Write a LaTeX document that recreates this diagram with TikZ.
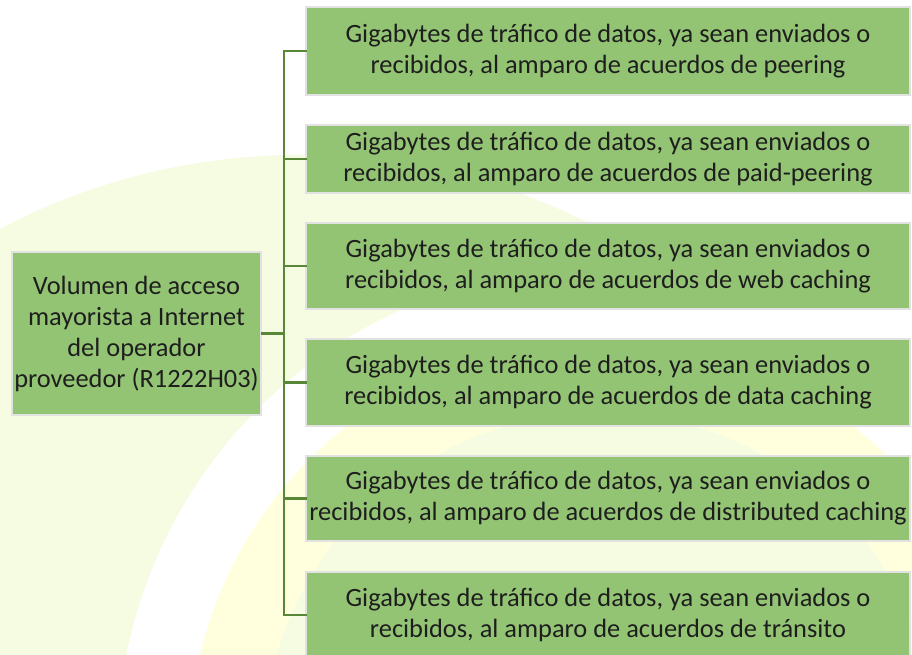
\documentclass[tikz,border=0pt]{standalone}
\usepackage{fontspec}
\setmainfont{Carlito}
\definecolor{boxgreen}{RGB}{147,196,115}
\definecolor{boxrim}{RGB}{226,226,226}
\definecolor{linkgreen}{RGB}{88,135,55}
\definecolor{inkgray}{RGB}{30,30,30}
\definecolor{markpale}{RGB}{245,252,226}
\definecolor{markyellow}{RGB}{255,255,221}

\begin{document}
\begin{tikzpicture}[
    x=1pt, y=-1pt,
    box/.style={rectangle, draw=boxrim, line width=1.5pt, fill=boxgreen, inner sep=0pt,
        align=center, text=inkgray, font=\fontsize{26.4}{31}\selectfont},
    link/.style={draw=linkgreen, line width=2.5pt, line cap=rect}
]
\useasboundingbox (0,0) rectangle (912,654);
\fill[white] (0,0) rectangle (912,654);

% faint watermark behind the chart
\begin{scope}
\clip (0,0) rectangle (912,654);
\fill[markpale] (300,800) circle (645);
\fill[white] (600,750) circle (483);
\fill[markyellow] (600,750) circle (411);
\fill[markpale] (600,750) circle (337);
\end{scope}

\node[box, minimum width=249, minimum height=163] (vol) at (136.5,333.5)
    {Volumen de acceso\\mayorista a Internet\\del operador\\proveedor (R1222H03)};

\node[box, minimum width=604, minimum height=88] (peer) at (608,51)
    {Gigabytes de tráfico de datos, ya sean enviados o\\recibidos, al amparo de acuerdos de peering};
\node[box, minimum width=604, minimum height=68] (paid) at (608,159)
    {Gigabytes de tráfico de datos, ya sean enviados o\\recibidos, al amparo de acuerdos de paid-peering};
\node[box, minimum width=604, minimum height=86] (web) at (608,266)
    {Gigabytes de tráfico de datos, ya sean enviados o\\recibidos, al amparo de acuerdos de web caching};
\node[box, minimum width=604, minimum height=87] (data) at (608,382.5)
    {Gigabytes de tráfico de datos, ya sean enviados o\\recibidos, al amparo de acuerdos de data caching};
\node[box, minimum width=604, minimum height=85] (dist) at (608,498.5)
    {Gigabytes de tráfico de datos, ya sean enviados o\\recibidos, al amparo de acuerdos de distributed caching};
\node[box, minimum width=604, minimum height=86] (tran) at (608,615)
    {Gigabytes de tráfico de datos, ya sean enviados o\\recibidos, al amparo de acuerdos de tránsito};

\coordinate (trunk) at (284,333.5);

\draw[link] (vol.east) -- (trunk);
\draw[link] (trunk |- peer.west) -- (trunk |- tran.west);
\draw[link] (trunk |- peer.west) -- (peer.west);
\draw[link] (trunk |- paid.west) -- (paid.west);
\draw[link] (trunk |- web.west) -- (web.west);
\draw[link] (trunk |- data.west) -- (data.west);
\draw[link] (trunk |- dist.west) -- (dist.west);
\draw[link] (trunk |- tran.west) -- (tran.west);

\end{tikzpicture}
\end{document}
